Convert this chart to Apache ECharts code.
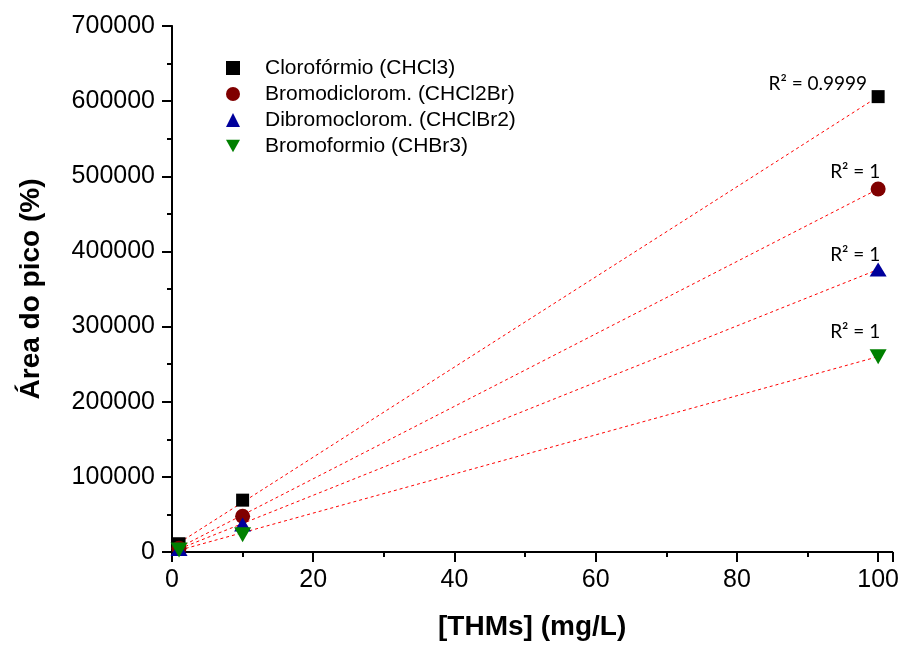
<!DOCTYPE html>
<html><head><meta charset="utf-8">
<script src="https://cdn.jsdelivr.net/npm/echarts@6/dist/echarts.min.js"></script>
<style>html,body{margin:0;padding:0;background:#fff}#c{width:902px;height:646px}</style>
</head><body><div id="c"></div>
<script>
const seriesNames = ['Clorofórmio (CHCl3)', 'Bromodiclorom. (CHCl2Br)', 'Dibromoclorom. (CHClBr2)', 'Bromoformio (CHBr3)'];
const concentrations = [1, 10, 100];
const clorofValues = [11000, 69000, 606000];
const bromodiValues = [5000, 47500, 483000];
const dibromoValues = [4000, 36500, 376000];
const bromofValues = [2500, 23000, 260000];
const fitX = [0.3, 100];
const clorofFit = [8000, 606000];
const bromodiFit = [2500, 483000];
const dibromoFit = [1500, 376000];
const bromofFit = [500, 260000];
const r2Labels = ['R² = 0.9999', 'R² = 1', 'R² = 1', 'R² = 1'];
const colors = ['#000000', '#800000', '#00009c', '#008000'];
const symbols = ['rect', 'circle', 'triangle', 'path://M0,0 L10,0 L5,9 Z'];
const symbolSizes = [13, 15, [17, 14], [17, 15]];
const labelAligns = ['right', 'center', 'center', 'center'];
const labelOffsets = [[-11, -13], [-23, -17], [-23, -15], [-23, -25]];

const values = [clorofValues, bromodiValues, dibromoValues, bromofValues];
const fits = [clorofFit, bromodiFit, dibromoFit, bromofFit];

const series = [];
fits.forEach((f, i) => {
  series.push({
    type: 'line', name: 'fit' + i, data: fitX.map((x, k) => [x, f[k]]),
    symbol: 'none', silent: true, z: 1,
    lineStyle: { color: '#ff0000', width: 1, type: [3, 3] }
  });
});
values.forEach((v, i) => {
  series.push({
    type: 'scatter', name: seriesNames[i], symbol: symbols[i], symbolSize: symbolSizes[i],
    itemStyle: { color: colors[i], opacity: 1 }, z: 3,
    data: concentrations.map((x, k) => {
      const d = { value: [x, v[k]] };
      if (k === concentrations.length - 1) {
        d.label = { show: true, formatter: r2Labels[i], position: 'inside', align: labelAligns[i],
          verticalAlign: 'middle', offset: labelOffsets[i],
          color: '#000', fontFamily: 'Lato, Open Sans, sans-serif', fontSize: 19 };
      }
      return d;
    })
  });
});

const chart = echarts.init(document.getElementById('c'), null, { renderer: 'canvas' });
chart.setOption({
  animation: false,
  backgroundColor: '#fff',
  grid: { left: 172, right: 9, top: 26, bottom: 92, containLabel: false },
  legend: {
    data: seriesNames.map((n, i) => ({ name: n, icon: symbols[i] })),
    orient: 'vertical', left: 221, top: 52, itemGap: 4, itemWidth: 14, itemHeight: 14,
    textStyle: { fontFamily: 'Liberation Sans, Arial', fontSize: 21, lineHeight: 22, color: '#000', padding: [0, 0, 0, 20] }
  },
  xAxis: [{
    type: 'value', min: 0, max: 102, interval: 20,
    name: '[THMs] (mg/L)', nameLocation: 'middle', nameGap: 61,
    nameTextStyle: { fontFamily: 'Liberation Sans, Arial', fontWeight: 'bold', fontSize: 28, color: '#000' },
    axisLine: { lineStyle: { color: '#000', width: 2 } },
    axisTick: { show: true, length: 10, lineStyle: { color: '#000', width: 2 } },
    minorTick: { show: true, splitNumber: 2, length: 5, lineStyle: { color: '#000', width: 2 } },
    axisLabel: { fontFamily: 'Liberation Sans, Arial', fontSize: 25, color: '#000', margin: 16,
      formatter: v => (v % 20 === 0 && v <= 100) ? String(v) : '' },
    splitLine: { show: false }
  }, {
    type: 'value', position: 'top', min: 0, max: 102, interval: 10,
    axisLine: { show: true, lineStyle: { color: '#000', width: 1.5 } },
    axisTick: { show: true, inside: true, length: 3, lineStyle: { color: '#000', width: 1 } },
    axisLabel: { show: false }, splitLine: { show: false }
  }],
  yAxis: [{
    type: 'value', min: 0, max: 700000, interval: 100000,
    name: 'Área do pico (%)', nameLocation: 'middle', nameGap: 127,
    nameTextStyle: { fontFamily: 'Liberation Sans, Arial', fontWeight: 'bold', fontSize: 28, color: '#000' },
    axisLine: { show: true, lineStyle: { color: '#000', width: 2 } },
    axisTick: { show: true, length: 10, lineStyle: { color: '#000', width: 2 } },
    minorTick: { show: true, splitNumber: 2, length: 5, lineStyle: { color: '#000', width: 2 } },
    axisLabel: { fontFamily: 'Liberation Sans, Arial', fontSize: 25, color: '#000', margin: 17,
      formatter: v => String(v) },
    splitLine: { show: false }
  }, {
    type: 'value', position: 'right', min: 0, max: 700000, interval: 100000,
    axisLine: { show: true, lineStyle: { color: '#000', width: 1.5 } },
    axisTick: { show: false }, axisLabel: { show: false }, splitLine: { show: false }
  }],
  series: series
});
</script></body></html>
